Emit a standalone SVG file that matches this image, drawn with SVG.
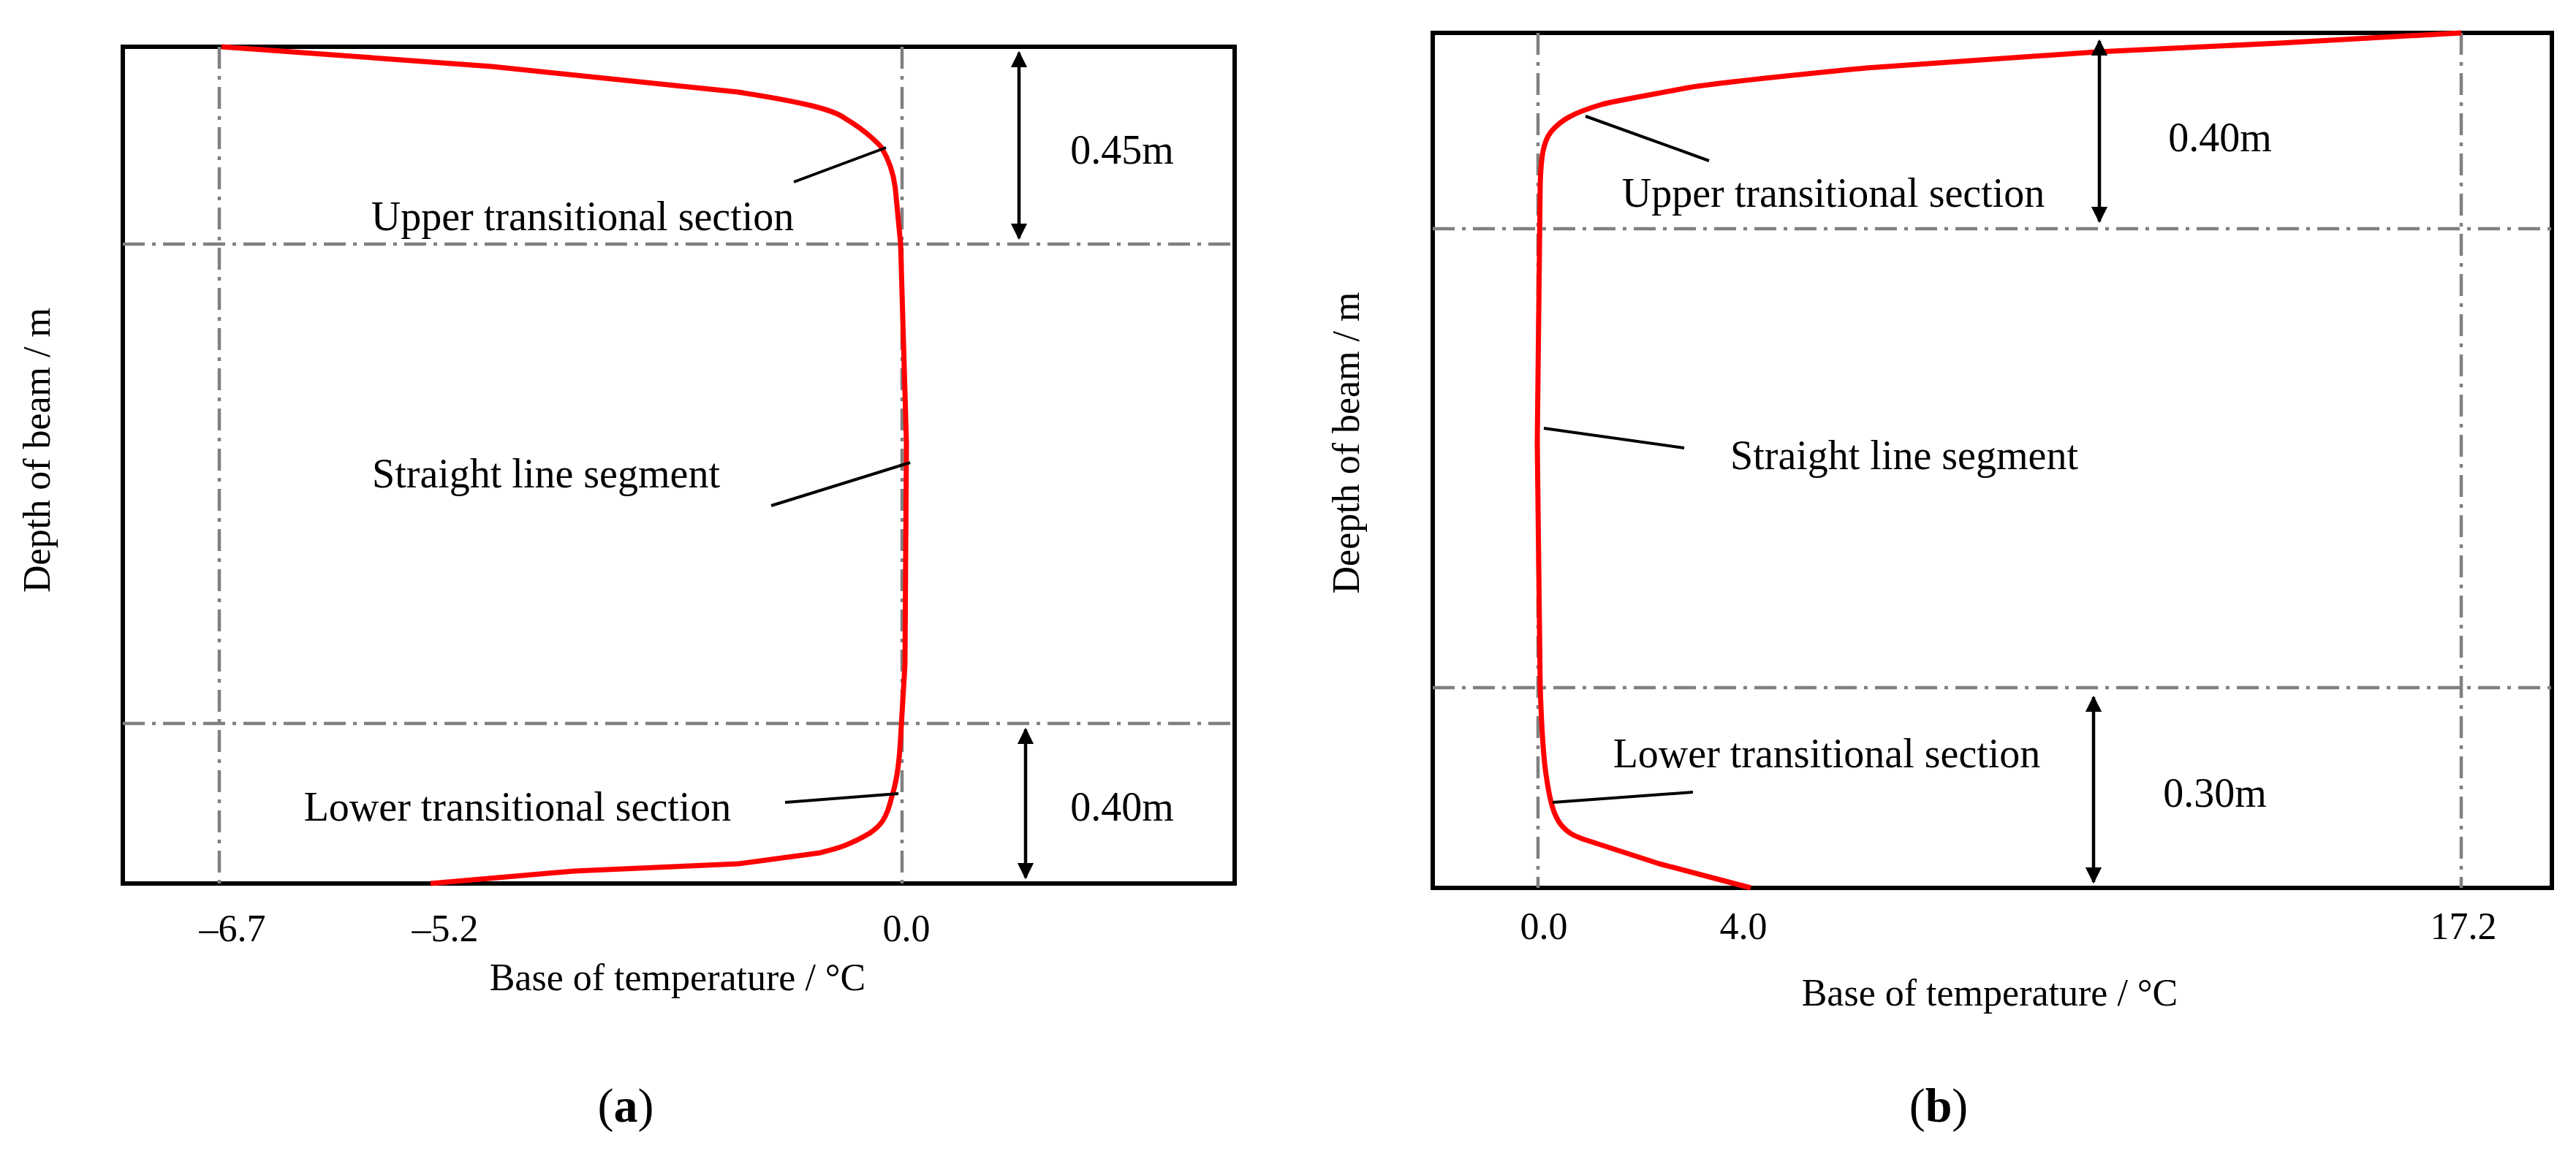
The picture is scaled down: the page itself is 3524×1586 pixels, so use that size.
<svg xmlns="http://www.w3.org/2000/svg" width="3524" height="1586" viewBox="0 0 3524 1586">
<style>
text{font-family:"Liberation Serif","Times New Roman",serif;fill:#000}
.lb{font-size:56px;text-anchor:middle}
.ax{font-size:52px;text-anchor:middle}
.frame{fill:none;stroke:#000;stroke-width:6}
.dd{stroke:#808080;stroke-width:4.5;stroke-dasharray:30 10 5 10;fill:none}
.curve{fill:none;stroke:#f00;stroke-width:7;stroke-linejoin:round}
.lead{stroke:#000;stroke-width:4}
.arr{stroke:#000;stroke-width:4.5;marker-start:url(#ah);marker-end:url(#ah)}
.cap{font-size:66px;text-anchor:middle}
</style>
<defs>
<marker id="ah" viewBox="0 0 10 10" refX="9" refY="5" markerWidth="5" markerHeight="8" markerUnits="strokeWidth" orient="auto-start-reverse"><path d="M0,0 L10,5 L0,10 z" fill="#000"/></marker>
</defs>
<rect width="3524" height="1586" fill="#fff"/>
<g id="panel-a">
<rect class="frame" x="168" y="64" width="1521" height="1145"/>
<line class="dd" x1="300" y1="64" x2="300" y2="1209"/>
<line class="dd" x1="1234" y1="64" x2="1234" y2="1209"/>
<line class="dd" x1="168" y1="334" x2="1689" y2="334"/>
<line class="dd" x1="168" y1="990" x2="1689" y2="990"/>
<path class="curve" d="M303,64 L673,91 L1010,126 C1100,140 1140,150 1156,162 C1190,182 1206,202 1206,202 C1218,222 1223,240 1225,260 L1232,333 L1240,606 L1238,909 L1232,1010 C1230,1050 1225,1075 1220,1090 C1213,1120 1205,1130 1190,1140 C1160,1158 1140,1162 1122,1167 L1010,1182 L785,1192 L589,1209"/>
<line class="arr" x1="1394" y1="72" x2="1394" y2="326"/>
<line class="arr" x1="1403" y1="998" x2="1403" y2="1201"/>
<text class="lb" x="1535" y="224">0.45m</text>
<text class="lb" x="1535" y="1123">0.40m</text>
</g>
<g id="labels-a">
<text class="lb" x="797" y="315">Upper transitional section</text>
<text class="lb" x="747" y="667">Straight line segment</text>
<text class="lb" x="708" y="1123">Lower transitional section</text>
<text class="ax" x="318" y="1288">–6.7</text>
<text class="ax" x="609" y="1288">–5.2</text>
<text class="ax" x="1240" y="1288">0.0</text>
<text class="ax" x="927" y="1355">Base of temperature / °C</text>
<text class="ax" transform="translate(68,616) rotate(-90)">Depth of beam / m</text>
<text class="cap" x="856" y="1535">(<tspan font-weight="bold">a</tspan>)</text>
</g>
<g id="panel-b">
<rect class="frame" x="1960" y="45" width="1531" height="1170"/>
<line class="dd" x1="2104" y1="45" x2="2104" y2="1215"/>
<line class="dd" x1="3367" y1="45" x2="3367" y2="1215"/>
<line class="dd" x1="1960" y1="313" x2="3491" y2="313"/>
<line class="dd" x1="1960" y1="941" x2="3491" y2="941"/>
<path class="curve" d="M3367,45 L3118,59 L2869,71 L2553,93 C2400,108 2330,116 2304,121 C2240,133 2200,140 2191,143 C2150,155 2135,165 2122,180 C2110,195 2108,220 2107,253 L2103,606 L2107,939 C2109,1000 2112,1040 2115,1060 C2120,1095 2125,1115 2135,1128 C2145,1140 2152,1143 2165,1148 L2270,1182 L2395,1215"/>
<line class="arr" x1="2872" y1="56" x2="2872" y2="303"/>
<line class="arr" x1="2864" y1="954" x2="2864" y2="1207"/>
<text class="lb" x="3037" y="207">0.40m</text>
<text class="lb" x="3030" y="1104">0.30m</text>
</g>
<g id="labels-b">
<text class="lb" x="2508" y="283">Upper transitional section</text>
<text class="lb" x="2605" y="642">Straight line segment</text>
<text class="lb" x="2499" y="1050">Lower transitional section</text>
<text class="ax" x="2112" y="1285">0.0</text>
<text class="ax" x="2385" y="1285">4.0</text>
<text class="ax" x="3370" y="1285">17.2</text>
<text class="ax" x="2722" y="1376">Base of temperature / °C</text>
<text class="ax" transform="translate(1859,606) rotate(-90)">Deepth of beam / m</text>
<text class="cap" x="2652" y="1535">(<tspan font-weight="bold">b</tspan>)</text>
</g>
<g id="connectors">
<line class="lead" x1="1086" y1="249" x2="1212" y2="202"/>
<line class="lead" x1="1055" y1="692" x2="1245" y2="633"/>
<line class="lead" x1="1074" y1="1098" x2="1229" y2="1086"/>
<line class="lead" x1="2169" y1="159" x2="2338" y2="220"/>
<line class="lead" x1="2112" y1="586" x2="2304" y2="613"/>
<line class="lead" x1="2124" y1="1098" x2="2316" y2="1084"/>
</g>
</svg>
